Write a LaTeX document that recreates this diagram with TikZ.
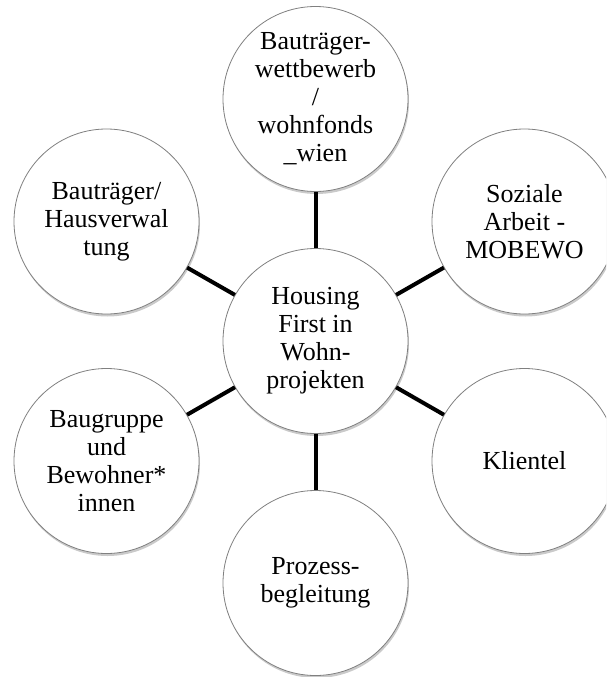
\documentclass[tikz,border=0pt]{standalone}
\usepackage{fontspec}
\setmainfont{Liberation Serif}
\usetikzlibrary{shadows}
\begin{document}
\begin{tikzpicture}[x=1pt,y=-1pt,
  bubble/.style={circle, draw=black!50, line width=0.8pt, fill=white,
    minimum size=185pt, inner sep=0pt, align=center,
    font=\fontsize{26}{28}\selectfont,
    drop shadow={shadow xshift=1pt, shadow yshift=-2.5pt, opacity=0.35, fill=black!60}},
  link/.style={line width=4pt, black}]
\clip (0,0) rectangle (606,677);
\useasboundingbox (0,0) rectangle (606,677);
\node[bubble] (c) at (315.5,341) {Housing\\First in\\Wohn-\\projekten};
\node[bubble] (t) at (315.5,99) {Bauträger-\\wettbewerb\\/\\wohnfonds\\\_wien};
\node[bubble] (lt) at (106.5,221.5) {Bauträger/\\Hausverwal\\tung};
\node[bubble] (rt) at (524.5,221.5) {Soziale\\Arbeit -\\MOBEWO};
\node[bubble] (lb) at (106.5,461) {Baugruppe\\und\\Bewohner*\\innen};
\node[bubble] (rb) at (524.5,461) {Klientel};
\node[bubble] (b) at (315.5,583) {Prozess-\\begleitung};
\draw[link] (c) -- (t);
\draw[link] (c) -- (lt);
\draw[link] (c) -- (rt);
\draw[link] (c) -- (lb);
\draw[link] (c) -- (rb);
\draw[link] (c) -- (b);
\end{tikzpicture}
\end{document}
